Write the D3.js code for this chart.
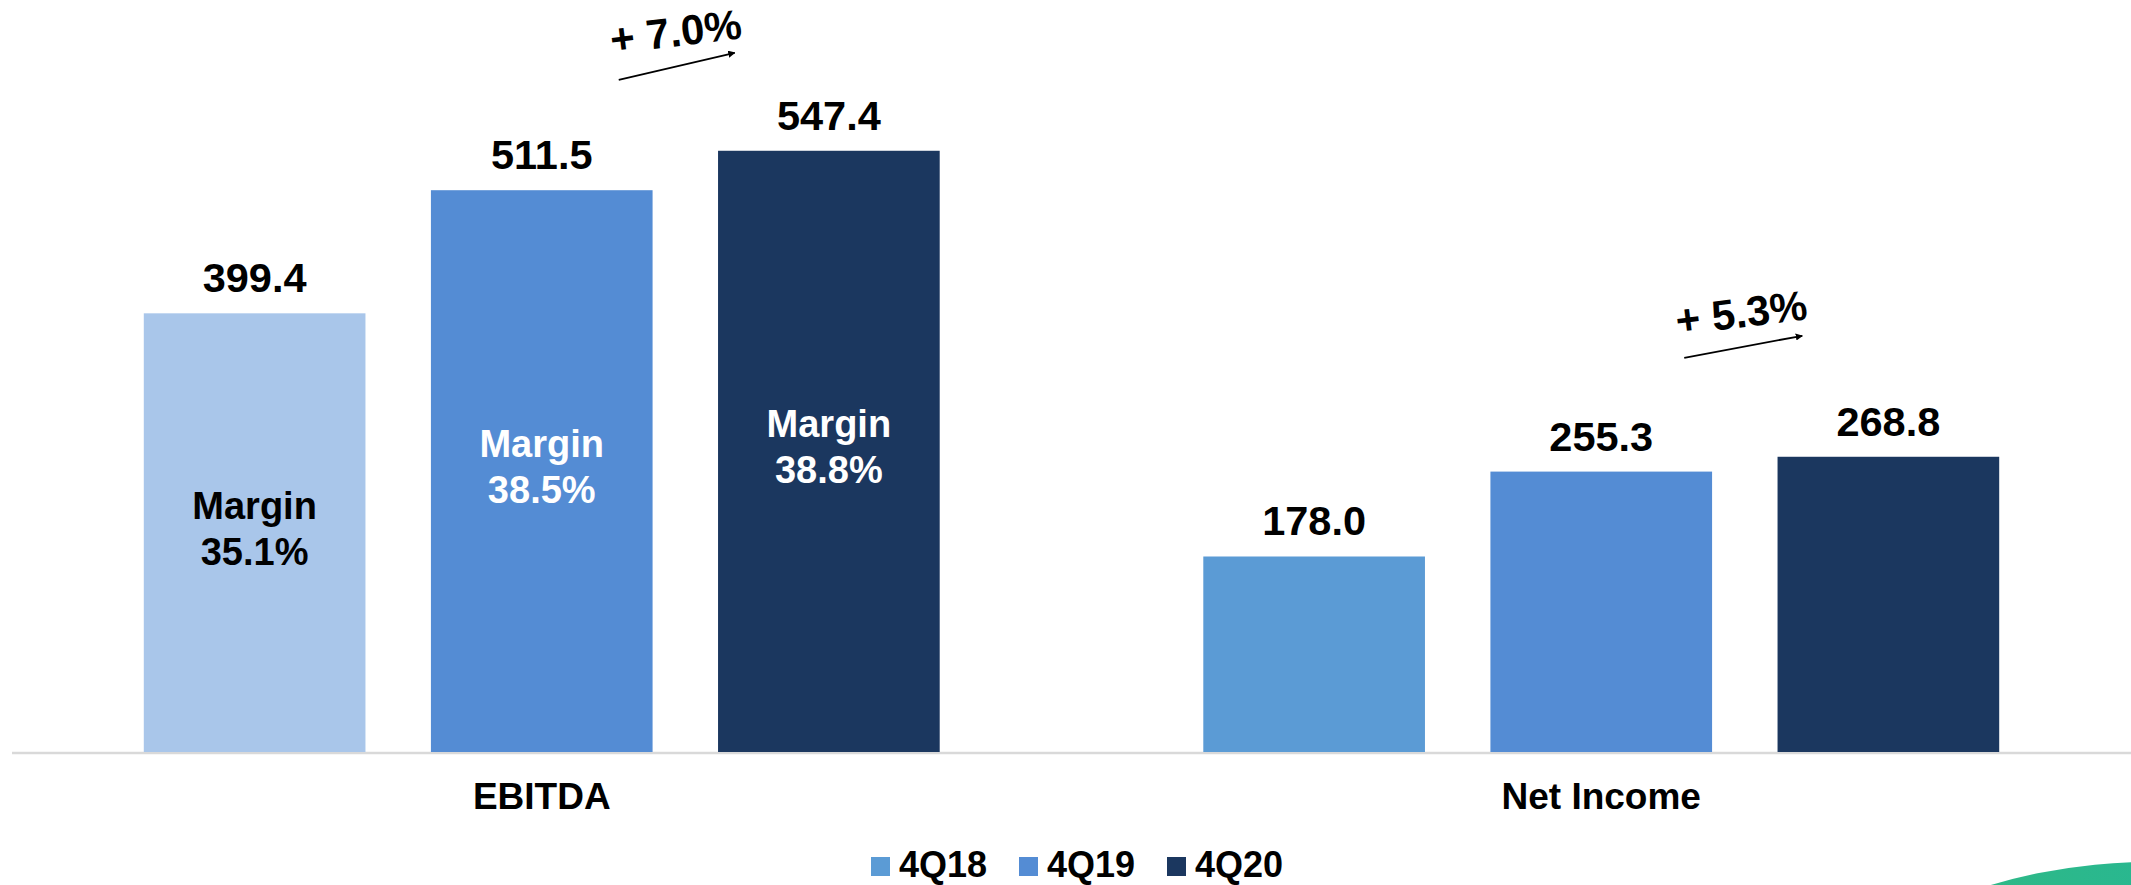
<!DOCTYPE html>
<html>
<head>
<meta charset="utf-8">
<script src="https://cdn.jsdelivr.net/npm/d3@7"></script>
<style>
  html, body { margin: 0; padding: 0; background: #ffffff; }
  svg { display: block; font-family: "Liberation Sans", Arial, sans-serif; }
</style>
</head>
<body>
<svg id="chart" width="2131" height="885"></svg>
<script>
// ---- data ----
const categories = ["EBITDA", "Net Income"];
const series = ["4Q18", "4Q19", "4Q20"];
const ebitdaValues = [399.4, 511.5, 547.4];
const netIncomeValues = [178.0, 255.3, 268.8];
const ebitdaMargins = ["35.1%", "38.5%", "38.8%"];
const growthLabels = ["+ 7.0%", "+ 5.3%"];

// ---- layout / style ----
const W = 2131, H = 885;
const baseline = 752;
const svg = d3.select("#chart");

const valuesByCat = [ebitdaValues, netIncomeValues];
const seriesColors = ["#5B9BD5", "#548CD4", "#1B375F"];
const ebitdaFirstColor = "#A9C6EA";
const marginTextColors = ["#000000", "#ffffff", "#ffffff"];

const x0 = d3.scaleBand().domain(categories).range([12, W]).paddingInner(0.187).paddingOuter(0.0935);
const x1 = d3.scaleBand().domain(series).range([0, x0.bandwidth()]).paddingInner(0.228).paddingOuter(0.114);
const y = d3.scaleLinear().domain([0, 600]).range([baseline, 93]);

// green decorative shape bottom-right
const defs = svg.append("defs");
const grad = defs.append("linearGradient").attr("id", "gr").attr("x1", "0").attr("x2", "1").attr("y1", "0").attr("y2", "0");
grad.append("stop").attr("offset", "0").attr("stop-color", "#3DBB72");
grad.append("stop").attr("offset", "1").attr("stop-color", "#14B4AE");
svg.append("circle").attr("cx", 2150).attr("cy", 1424).attr("r", 562).attr("fill", "url(#gr)");

// axis line
svg.append("line")
  .attr("x1", 12).attr("x2", W)
  .attr("y1", baseline + 1).attr("y2", baseline + 1)
  .attr("stroke", "#D9D9D9").attr("stroke-width", 2.3);

// bars
const groups = svg.selectAll("g.grp").data(categories).enter().append("g")
  .attr("class", "grp")
  .attr("transform", d => `translate(${x0(d)},0)`);

groups.each(function(cat, ci) {
  const g = d3.select(this);
  const vals = valuesByCat[ci];
  const rows = series.map((s, i) => ({ s, v: vals[i], i }));
  g.selectAll("rect").data(rows).enter().append("rect")
    .attr("x", d => x1(d.s))
    .attr("y", d => y(d.v))
    .attr("width", x1.bandwidth())
    .attr("height", d => baseline - y(d.v))
    .attr("fill", d => (ci === 0 && d.i === 0) ? ebitdaFirstColor : seriesColors[d.i]);

  g.selectAll("text.val").data(rows).enter().append("text")
    .attr("class", "val")
    .attr("x", d => x1(d.s) + x1.bandwidth() / 2)
    .attr("y", d => y(d.v) - 21)
    .attr("text-anchor", "middle")
    .attr("font-weight", "bold")
    .attr("font-size", 41.5)
    .attr("fill", "#000")
    .text(d => d.v.toFixed(1));

  if (ci === 0) {
    rows.forEach(d => {
      const mid = (y(d.v) + baseline) / 2;
      const t = g.append("text")
        .attr("text-anchor", "middle")
        .attr("font-weight", "bold")
        .attr("font-size", 38)
        .attr("fill", marginTextColors[d.i]);
      t.append("tspan").attr("x", x1(d.s) + x1.bandwidth() / 2).attr("y", mid - 14).text("Margin");
      t.append("tspan").attr("x", x1(d.s) + x1.bandwidth() / 2).attr("y", mid + 32).text(ebitdaMargins[d.i]);
    });
  }

  // category label
  g.append("text")
    .attr("x", x0.bandwidth() / 2)
    .attr("y", 809)
    .attr("text-anchor", "middle")
    .attr("font-weight", "bold")
    .attr("font-size", 37)
    .attr("fill", "#000")
    .text(cat);
});

// growth annotations
defs.append("marker").attr("id", "arr")
  .attr("viewBox", "0 0 10 10").attr("refX", 9).attr("refY", 5)
  .attr("markerWidth", 4).attr("markerHeight", 4).attr("orient", "auto")
  .append("path").attr("d", "M0,0 L10,5 L0,10 z").attr("fill", "#000");

const annOffsets = [
  { ax0: 77, ay0: 71, ax1: 193, ay1: 98, tx: 134, ty: 119 },
  { ax0: 83, ay0: 99, ax1: 201, ay1: 121, tx: 140, ty: 144 }
];
categories.forEach((cat, ci) => {
  const topY = y(d3.max(valuesByCat[ci]));
  const cx = x0(cat) + x0.bandwidth() / 2;
  const o = annOffsets[ci];
  svg.append("line")
    .attr("x1", cx + o.ax0).attr("y1", topY - o.ay0)
    .attr("x2", cx + o.ax1).attr("y2", topY - o.ay1)
    .attr("stroke", "#000").attr("stroke-width", 1.8)
    .attr("marker-end", "url(#arr)");
  svg.append("text")
    .attr("transform", `translate(${cx + o.tx},${topY - o.ty}) rotate(-7)`)
    .attr("text-anchor", "middle")
    .attr("dominant-baseline", "central")
    .attr("font-weight", "bold")
    .attr("font-size", 42)
    .attr("fill", "#000")
    .text(growthLabels[ci]);
});

// legend
const legendX = [871, 1019, 1167];
series.forEach((s, i) => {
  svg.append("rect").attr("x", legendX[i]).attr("y", 857).attr("width", 19).attr("height", 19).attr("fill", seriesColors[i]);
  svg.append("text").attr("x", legendX[i] + 28).attr("y", 877)
    .attr("font-weight", "bold").attr("font-size", 36).attr("fill", "#000").text(s);
});
</script>
</body>
</html>
